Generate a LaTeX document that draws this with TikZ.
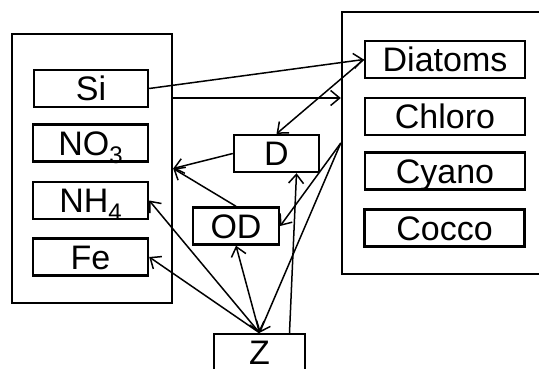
\documentclass[tikz,border=0pt]{standalone}
\usepackage{fontspec}
\setmainfont{Liberation Sans}
\usetikzlibrary{arrows.meta}

\newcommand{\lowsub}[1]{\raisebox{-8pt}{\fontsize{24}{24}\selectfont #1}}

\tikzset{
  grp/.style={draw, line width=2.4pt, inner sep=0pt},
  var/.style={draw, fill=white, line width=2.4pt, inner sep=0pt, minimum height=37pt, text height=24.5pt, text depth=0pt},
  arr/.style={line width=1.5pt, -{Straight Barb[length=9pt,width=15pt]}},
  arrb/.style={line width=1.5pt, {Straight Barb[length=9pt,width=15pt]}-{Straight Barb[length=9pt,width=15pt]}},
}

\begin{document}
\begin{tikzpicture}[x=1pt, y=-1pt, font=\fontsize{34}{40}\selectfont]
        \useasboundingbox (0,0) rectangle (539,369);
        \clip (0,0) rectangle (539,369);
        % groups
        \node[grp, minimum width=160pt, minimum height=269pt] (nut) at (92,168.5){};
        \node[grp, minimum width=240pt, minimum height=262pt] (phy) at (462,143){};
        % nutrients
        \node[var, minimum width=114pt] (Si) at (91,88.5){Si};
        \node[var, minimum width=115pt] (NO3) at (90.5,143){NO\lowsub{3}};
        \node[var, minimum width=115pt] (NH4) at (90.5,200.5){NH\lowsub{4}};
        \node[var, minimum width=115pt] (Fe) at (90.5,257){Fe};
        % phytoplankton
        \node[var, minimum width=160pt] (Dia) at (445,59.5){Diatoms};
        \node[var, minimum width=160pt] (Chl) at (445,116.5){Chloro};
        \node[var, minimum width=160pt] (Cya) at (445,171){Cyano};
        \node[var, minimum width=160pt] (Coc) at (444.5,228){Cocco};
        % the rest
        \node[var, minimum width=85pt] (D) at (276.5,153.5){D};
        \node[var, minimum width=86pt] (OD) at (236,226){OD};
        \node[var, minimum width=91pt] (Z) at (259.5,352.5){Z};
        % fluxes
        \draw[arr] (Si.east) -- (Dia.west);
        \draw[arr] (Dia.west) -- (D.north);
        \draw[arr] (nut.east |- 0,98) -- (phy.west |- 0,98);
        \draw[arr] (D.west) -- (nut.east);
        \draw[arr] (OD.north) -- (nut.east);
        \draw[arr] (phy.west) -- (OD.east);
        \draw[arr] (phy.west) -- (Z.north);
        \draw[arr] (Z.north) -- (NH4.east);
        \draw[arr] (Z.north) -- (Fe.east);
        \draw[arrb] (Z.north) -- (OD.south);
        \draw[arr] ([xshift=30pt]Z.north) -- ([xshift=20pt]D.south);
    \end{tikzpicture}
\end{document}
